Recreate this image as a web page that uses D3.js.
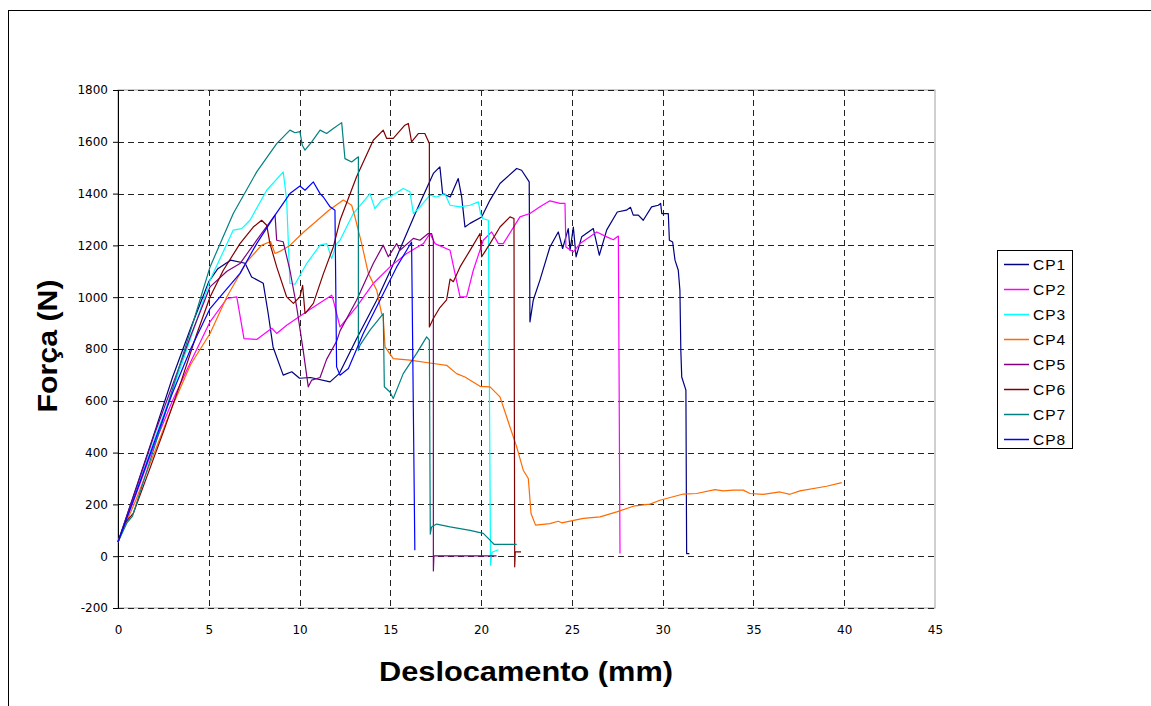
<!DOCTYPE html>
<html>
<head>
<meta charset="utf-8">
<script src="https://cdn.jsdelivr.net/npm/d3@7"></script>
<style>
  body { margin: 0; background: #fff; }
  svg { display: block; }
</style>
</head>
<body>
<svg></svg>
<script>
// series names + colours (Excel palette)
const names = ["CP1", "CP2", "CP3", "CP4", "CP5", "CP6", "CP7", "CP8"];
const colors = ["#000080", "#FF00FF", "#00FFFF", "#FF6A00", "#800080", "#800000", "#008080", "#0000FF"];

const xTicks = [0, 5, 10, 15, 20, 25, 30, 35, 40, 45];
const yTicks = [-200, 0, 200, 400, 600, 800, 1000, 1200, 1400, 1600, 1800];

// [deslocamento (mm), força (N)]
const cp1 = [[0,55],[1,265],[2,475],[3,690],[4,880],[5,1060],[5.5,1110],[6.2,1143],[7.0,1131],[7.36,1078],[8.0,1054],[8.27,938],[8.54,808],[9.1,699],[9.57,712],[10.0,687],[10.6,690],[11.68,673],[12.2,706],[13.1,834],[14.25,988],[15.35,1156],[16.45,1336],[17.37,1478],[17.73,1503],[17.88,1400],[18.3,1387],[18.74,1458],[18.93,1387],[19.11,1271],[19.39,1285],[20.03,1310],[20.49,1375],[21.04,1439],[21.96,1497],[22.23,1490],[22.65,1445],[22.69,905],[22.87,988],[23.24,1066],[23.79,1194],[24.25,1252],[24.49,1188],[24.8,1265],[24.9,1181],[25.08,1271],[25.23,1156],[25.54,1233],[26.18,1265],[26.51,1162],[26.92,1260],[27.5,1329],[28.0,1336],[28.23,1347],[28.38,1317],[28.66,1317],[28.93,1297],[29.39,1349],[29.76,1355],[29.89,1362],[29.95,1323],[30.31,1323],[30.37,1220],[30.55,1213],[30.68,1143],[30.86,1104],[30.95,1027],[31.0,795],[31.05,692],[31.28,641],[31.32,10],[31.47,10]];
const cp2 = [[0,55],[1,240],[2,430],[3,600],[4,750],[5.07,905],[6.0,995],[6.54,1001],[6.94,840],[7.64,837],[8.47,880],[8.74,860],[9.29,892],[10.5,950],[11.77,1008],[11.86,988],[12.23,885],[13.14,963],[14.06,1053],[14.98,1117],[15.9,1169],[16.82,1207],[17.18,1246],[17.46,1207],[18.29,1181],[18.56,1092],[18.84,1001],[19.2,1001],[19.57,1104],[20.12,1220],[20.58,1252],[20.95,1207],[21.22,1207],[22.14,1310],[22.69,1323],[23.24,1349],[23.79,1372],[24.34,1362],[24.62,1362],[24.67,1194],[25.08,1175],[25.45,1207],[26.37,1252],[26.92,1233],[27.28,1222],[27.56,1236],[27.65,10]];
const cp3 = [[0,55],[1,250],[2,450],[3,640],[4,840],[5.07,1066],[6.35,1259],[6.81,1265],[7.27,1297],[8.19,1413],[9.1,1484],[9.29,1375],[9.47,1053],[9.75,1050],[10.39,1130],[11.13,1201],[11.5,1207],[11.77,1149],[12.04,1207],[12.23,1220],[12.96,1323],[13.88,1400],[14.15,1342],[14.52,1375],[14.98,1387],[15.71,1420],[16.08,1407],[16.27,1323],[16.63,1349],[17.18,1394],[17.55,1387],[18.0,1400],[18.29,1355],[18.84,1349],[19.39,1355],[19.85,1368],[19.97,1323],[20.09,1304],[20.4,1297],[20.52,-35],[20.6,15],[20.95,25]];
const cp4 = [[0,55],[1,220],[2,400],[3,580],[4,740],[5.07,860],[5.99,1001],[7.09,1136],[7.9,1200],[8.4,1215],[8.65,1169],[9.0,1180],[9.47,1200],[10.2,1250],[11.03,1300],[11.6,1335],[12.41,1375],[12.87,1355],[13.05,1310],[13.42,1207],[13.79,1092],[14.25,1027],[14.52,937],[14.6,930],[14.71,808],[15.16,763],[16.08,757],[17.37,744],[18.1,737],[18.65,705],[19.11,692],[19.94,656],[20.49,654],[21.04,615],[21.59,499],[21.96,422],[22.32,332],[22.6,300],[22.75,165],[23.0,120],[23.79,126],[24.25,135],[24.44,129],[25.63,146],[26.55,152],[27.47,171],[28.38,193],[29.3,201],[29.85,216],[31.14,240],[31.87,242],[32.88,257],[33.34,252],[33.89,255],[34.44,255],[34.81,242],[35.54,239],[36.46,248],[37.01,239],[37.56,252],[39.03,270],[39.86,284]];
const cp5 = [[0,55],[1,260],[2,470],[3,660],[4,850],[5.07,1040],[6.0,1100],[6.72,1130],[7.64,1220],[8.65,1317],[8.74,1220],[9.1,1214],[9.47,1104],[9.84,963],[10.2,795],[10.48,654],[10.67,680],[11.13,690],[11.49,760],[12.04,830],[12.23,870],[13.14,988],[14.06,1130],[14.61,1201],[14.89,1156],[15.35,1207],[15.53,1181],[16.27,1227],[16.63,1220],[17.09,1246],[17.27,1246],[17.37,1220],[17.37,-57],[17.4,1],[20.85,1]];
const cp6 = [[0,55],[0.4,130],[0.84,165],[1.5,290],[2.5,480],[3.5,680],[4.3,850],[5.07,1001],[5.8,1104],[6.72,1207],[7.45,1271],[7.91,1297],[8.19,1278],[8.37,1207],[8.74,1117],[9.29,1001],[9.66,976],[10.02,1001],[10.17,1046],[10.3,937],[10.76,976],[11.31,1090],[11.86,1194],[12.23,1297],[13.14,1465],[14.06,1606],[14.61,1645],[14.8,1613],[15.16,1613],[15.8,1664],[15.99,1671],[16.17,1600],[16.54,1632],[16.9,1632],[17.15,1593],[17.15,885],[17.37,918],[17.73,960],[18.1,990],[18.29,1070],[18.47,1060],[18.84,1117],[19.39,1181],[19.94,1246],[20.03,1156],[20.49,1207],[21.04,1271],[21.59,1310],[21.81,1304],[21.85,-41],[21.88,17],[22.2,17]];
const cp7 = [[0,55],[0.5,130],[0.8,155],[1.5,310],[2.5,530],[3.5,760],[4.3,940],[5.07,1117],[6.35,1323],[7.64,1484],[8.74,1593],[9.47,1645],[9.75,1635],[10.02,1639],[10.15,1587],[10.3,1568],[10.67,1600],[11.13,1645],[11.49,1632],[11.86,1651],[12.32,1674],[12.5,1535],[12.87,1522],[13.24,1542],[13.24,795],[13.33,815],[13.88,873],[14.61,937],[14.67,654],[14.98,634],[15.16,609],[15.71,705],[16.45,783],[17.0,847],[17.15,834],[17.2,85],[17.27,113],[17.55,124],[18.29,113],[19.39,100],[20.12,88],[20.49,62],[20.71,46],[21.96,46]];
const cp8 = [[0,55],[1,245],[2,440],[3,630],[4,800],[5.07,956],[5.62,1001],[6.72,1092],[7.64,1207],[8.65,1317],[9.47,1400],[10.02,1429],[10.3,1413],[10.76,1445],[11.13,1400],[11.31,1387],[11.68,1349],[11.95,1336],[12.04,731],[12.23,699],[12.69,725],[13.51,860],[14.43,988],[15.35,1117],[16.17,1213],[16.35,23]];

const seriesData = [cp1, cp2, cp3, cp4, cp5, cp6, cp7, cp8];

const W = 1151, H = 706;
const svg = d3.select("svg").attr("width", W).attr("height", H);

// outer chart frame (right/bottom edges run off the page)
svg.append("rect").attr("x", 8.5).attr("y", 10.5).attr("width", 1300).attr("height", 900)
  .attr("fill", "white").attr("stroke", "black").attr("stroke-width", 1);

const x = d3.scaleLinear().domain([0, 45]).range([118, 935]);
const y = d3.scaleLinear().domain([-200, 1800]).range([608, 90]);

// plot area border
svg.append("rect").attr("x", x(0)).attr("y", y(1800))
  .attr("width", x(45) - x(0)).attr("height", y(-200) - y(1800))
  .attr("fill", "none").attr("stroke", "#a0a0a0");

// gridlines
svg.append("g").selectAll("line").data(yTicks).join("line")
  .attr("x1", x(0)).attr("x2", x(45))
  .attr("y1", d => Math.round(y(d)) + 0.5).attr("y2", d => Math.round(y(d)) + 0.5)
  .attr("stroke", "#222").attr("stroke-dasharray", "6,4");
svg.append("g").selectAll("line").data(xTicks.filter(d => d > 0 && d < 45)).join("line")
  .attr("x1", d => Math.round(x(d)) + 0.5).attr("x2", d => Math.round(x(d)) + 0.5)
  .attr("y1", y(1800)).attr("y2", y(-200))
  .attr("stroke", "#222").attr("stroke-dasharray", "6,4");

// y axis (plain hyphen minus like the original)
const yAxis = svg.append("g").attr("transform", `translate(${x(0)},0)`)
  .call(d3.axisLeft(y).tickValues(yTicks).tickFormat(d => String(d))
    .tickSize(5).tickSizeOuter(0).tickPadding(5));
yAxis.select(".domain").attr("stroke", "black");
yAxis.selectAll("text").attr("font-family", "DejaVu Sans").attr("font-size", 12).attr("fill", "#000");

// x axis (labels only)
const xAxis = svg.append("g").attr("transform", `translate(0,${y(-200)})`)
  .call(d3.axisBottom(x).tickValues(xTicks).tickFormat(d => String(d)).tickSize(0).tickPadding(17));
xAxis.select(".domain").remove();
xAxis.selectAll("text").attr("font-family", "DejaVu Sans").attr("font-size", 12).attr("fill", "#000");

// series
const line = d3.line().x(d => x(d[0])).y(d => y(d[1]));
svg.append("g").selectAll("path").data(seriesData).join("path")
  .attr("d", line)
  .attr("fill", "none")
  .attr("stroke", (d, i) => colors[i])
  .attr("stroke-width", 1.2)
  .attr("stroke-linejoin", "round");

// axis titles
svg.append("text").text("Deslocamento (mm)")
  .attr("x", 526).attr("y", 681).attr("text-anchor", "middle")
  .attr("font-family", "Liberation Sans, Arial").attr("font-weight", "bold").attr("font-size", 27)
  .attr("textLength", 294).attr("lengthAdjust", "spacingAndGlyphs");

svg.append("text").text("Força (N)")
  .attr("transform", "translate(57,346) rotate(-90)").attr("text-anchor", "middle")
  .attr("font-family", "Liberation Sans, Arial").attr("font-weight", "bold").attr("font-size", 27)
  .attr("textLength", 133).attr("lengthAdjust", "spacingAndGlyphs");

// legend
const legend = svg.append("g");
legend.append("rect").attr("x", 997.5).attr("y", 250.5).attr("width", 75).attr("height", 198)
  .attr("fill", "white").attr("stroke", "black");
const items = legend.selectAll("g.item").data(names).join("g")
  .attr("class", "item")
  .attr("transform", (d, i) => `translate(0,${264 + i * 25})`);
items.append("line").attr("x1", 1004).attr("x2", 1029).attr("y1", 0.5).attr("y2", 0.5)
  .attr("stroke", (d, i) => colors[i]).attr("stroke-width", 1.5);
items.append("text").text(d => d).attr("x", 1033).attr("y", 6)
  .attr("font-family", "Liberation Sans, Arial").attr("font-size", 15.5).attr("letter-spacing", 1);
</script>
</body>
</html>
